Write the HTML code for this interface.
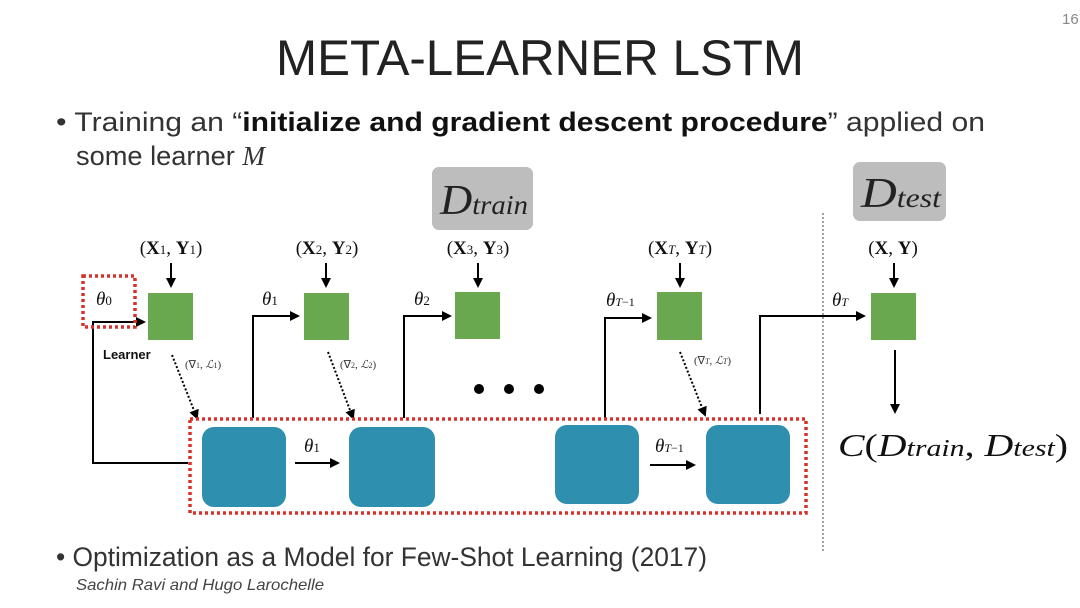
<!DOCTYPE html>
<html><head><meta charset="utf-8"><style>
body{margin:0;background:#fff;}
svg{display:block;font-family:"Liberation Sans",sans-serif;}
.m{font-family:"Liberation Serif",serif;}
</style></head><body>
<svg width="1080" height="608" viewBox="0 0 1080 608" xmlns="http://www.w3.org/2000/svg">
<defs>
<marker id="a" markerWidth="10" markerHeight="10" refX="8" refY="5" orient="auto" markerUnits="userSpaceOnUse"><path d="M0,0 L10,5 L0,10 z" fill="#000"/></marker>
</defs>
<text x="1062" y="24" font-size="15" fill="#888">16</text>
<text x="540" y="75" font-size="50" text-anchor="middle" fill="#222" textLength="528" lengthAdjust="spacingAndGlyphs">META-LEARNER LSTM</text>
<text x="56" y="131" font-size="27" fill="#333" textLength="929" lengthAdjust="spacingAndGlyphs">• Training an “<tspan font-weight="bold" fill="#111">initialize and gradient descent procedure</tspan>” applied on</text>
<text x="76" y="165" font-size="27" fill="#333" textLength="189" lengthAdjust="spacingAndGlyphs">some learner <tspan class="m" font-style="italic">M</tspan></text>
<text x="56" y="566" font-size="27" fill="#333" textLength="651" lengthAdjust="spacingAndGlyphs">• Optimization as a Model for Few-Shot Learning (2017)</text>
<text x="76" y="590" font-size="16" font-style="italic" fill="#444" textLength="248" lengthAdjust="spacingAndGlyphs">Sachin Ravi and Hugo Larochelle</text>

<rect x="432" y="167" width="101" height="63" rx="7" fill="#bdbdbd"/>
<text x="440" y="214" class="m" font-size="42" font-style="italic" fill="#222" textLength="88" lengthAdjust="spacingAndGlyphs">D<tspan font-size="27">train</tspan></text>
<rect x="853" y="162" width="93" height="59" rx="7" fill="#bdbdbd"/>
<text x="861" y="207" class="m" font-size="42" font-style="italic" fill="#222" textLength="80" lengthAdjust="spacingAndGlyphs">D<tspan font-size="27">test</tspan></text>

<line x1="823" y1="213" x2="823" y2="552" stroke="#444" stroke-width="1" stroke-dasharray="2,2"/>

<g class="m" font-size="19" fill="#111" text-anchor="middle">
<text x="171" y="254">(<tspan font-weight="bold">X</tspan><tspan font-size="13">1</tspan>, <tspan font-weight="bold">Y</tspan><tspan font-size="13">1</tspan>)</text>
<text x="327" y="254">(<tspan font-weight="bold">X</tspan><tspan font-size="13">2</tspan>, <tspan font-weight="bold">Y</tspan><tspan font-size="13">2</tspan>)</text>
<text x="478" y="254">(<tspan font-weight="bold">X</tspan><tspan font-size="13">3</tspan>, <tspan font-weight="bold">Y</tspan><tspan font-size="13">3</tspan>)</text>
<text x="680" y="254">(<tspan font-weight="bold">X</tspan><tspan font-size="13" font-style="italic">T</tspan>, <tspan font-weight="bold">Y</tspan><tspan font-size="13" font-style="italic">T</tspan>)</text>
<text x="893" y="254">(<tspan font-weight="bold">X</tspan>, <tspan font-weight="bold">Y</tspan>)</text>
</g>
<g stroke="#000" stroke-width="2" fill="none" marker-end="url(#a)">
<line x1="171" y1="263" x2="171" y2="286"/>
<line x1="326" y1="263" x2="326" y2="286"/>
<line x1="478" y1="263" x2="478" y2="286"/>
<line x1="680" y1="263" x2="680" y2="286"/>
<line x1="894" y1="263" x2="894" y2="286"/>
<polyline points="188,463 93,463 93,322 144,322"/>
<polyline points="253,418 253,316 298,316"/>
<polyline points="404,418 404,316 450,316"/>
<polyline points="605,418 605,318 650,318"/>
<polyline points="760,414 760,316 864,316"/>
<line x1="295" y1="463" x2="338" y2="463"/>
<line x1="650" y1="465" x2="694" y2="465"/>
<line x1="895" y1="350" x2="895" y2="412"/>
</g>
<g stroke="#000" stroke-width="2" stroke-dasharray="2,2" fill="none" marker-end="url(#a)">
<line x1="172" y1="355" x2="197" y2="418"/>
<line x1="328" y1="352" x2="353" y2="418"/>
<line x1="680" y1="352" x2="705" y2="415"/>
</g>

<g fill="#6aa84f">
<rect x="148" y="293" width="45" height="47"/>
<rect x="304" y="293" width="45" height="47"/>
<rect x="455" y="292" width="45" height="47"/>
<rect x="657" y="292" width="45" height="48"/>
<rect x="871" y="293" width="45" height="47"/>
</g>
<g fill="#2f8fae">
<rect x="202" y="427" width="84" height="80" rx="12"/>
<rect x="349" y="427" width="86" height="80" rx="12"/>
<rect x="555" y="425" width="84" height="79" rx="12"/>
<rect x="706" y="425" width="84" height="79" rx="12"/>
</g>
<rect x="190" y="419" width="616" height="94" fill="none" stroke="#d9302a" stroke-width="3.5" stroke-dasharray="3,3"/>
<rect x="83" y="276" width="52" height="51" fill="none" stroke="#d9302a" stroke-width="3.5" stroke-dasharray="3,3"/>

<g class="m" font-style="italic" fill="#111" font-size="19">
<text x="96" y="305">θ<tspan font-size="13" font-style="normal">0</tspan></text>
<text x="262" y="305">θ<tspan font-size="13" font-style="normal">1</tspan></text>
<text x="414" y="305">θ<tspan font-size="13" font-style="normal">2</tspan></text>
<text x="606" y="306">θ<tspan font-size="12">T</tspan><tspan font-size="12" font-style="normal">−1</tspan></text>
<text x="832" y="306">θ<tspan font-size="12">T</tspan></text>
<text x="304" y="452">θ<tspan font-size="13" font-style="normal">1</tspan></text>
<text x="655" y="452">θ<tspan font-size="12">T</tspan><tspan font-size="12" font-style="normal">−1</tspan></text>
</g>
<text x="103" y="359" font-size="13" font-weight="bold" fill="#111">Learner</text>
<g class="m" font-size="11" fill="#333">
<text x="185" y="368">(∇<tspan font-size="8">1</tspan>, <tspan font-style="italic">ℒ</tspan><tspan font-size="8">1</tspan>)</text>
<text x="340" y="368">(∇<tspan font-size="8">2</tspan>, <tspan font-style="italic">ℒ</tspan><tspan font-size="8">2</tspan>)</text>
<text x="694" y="364">(∇<tspan font-size="8" font-style="italic">T</tspan>, <tspan font-style="italic">ℒ</tspan><tspan font-size="8" font-style="italic">T</tspan>)</text>
</g>
<g fill="#000">
<circle cx="479" cy="389" r="5"/><circle cx="509" cy="389" r="5"/><circle cx="539" cy="389" r="5"/>
</g>
<text x="838" y="456" class="m" font-size="32" fill="#111" textLength="230" lengthAdjust="spacingAndGlyphs"><tspan font-style="italic">C</tspan>(<tspan font-style="italic">D</tspan><tspan font-size="24" font-style="italic">train</tspan>, <tspan font-style="italic">D</tspan><tspan font-size="24" font-style="italic">test</tspan>)</text>
</svg>
</body></html>
